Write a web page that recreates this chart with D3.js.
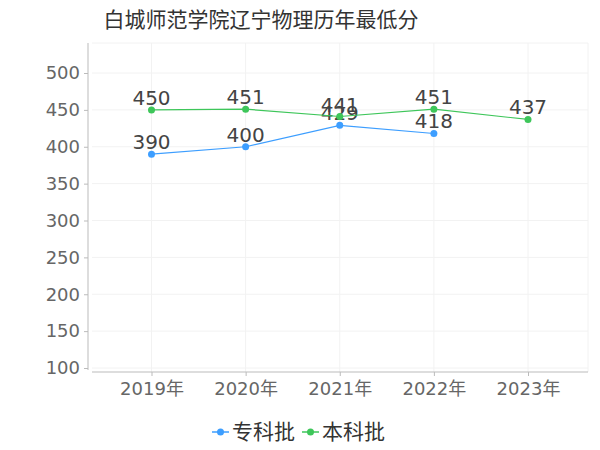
<!DOCTYPE html>
<html>
<head>
<meta charset="utf-8">
<script src="https://cdn.jsdelivr.net/npm/d3@7"></script>
<style>
  body { margin: 0; background: #fff; }
  svg, svg text { font-family: "DejaVu Sans", "Noto Sans CJK SC", sans-serif; }
</style>
</head>
<body>
<div id="chart"></div>
<script>
// 数据
const title = "白城师范学院辽宁物理历年最低分";
const years = ["2019年", "2020年", "2021年", "2022年", "2023年"];
const seriesNames = ["专科批", "本科批"];
const zhuanke = [390, 400, 429, 418, null];
const benke = [450, 451, 441, 451, 437];
const yTicks = [100, 150, 200, 250, 300, 350, 400, 450, 500];
const colors = ["#3d9eff", "#3ec65a"];

const W = 600, H = 450;
const plot = { left: 92, right: 588, top: 43, bottom: 372 };
const FONT = '"DejaVu Sans", "Noto Sans CJK SC", sans-serif';

const svg = d3.select("#chart").append("svg")
    .attr("width", W)
    .attr("height", H);

const x = d3.scalePoint().domain(years).range([151.5, 528]);
const y = d3.scaleLinear().domain([100, 500]).range([368, 73]);

// 网格
const grid = svg.append("g").attr("class", "grid");
grid.selectAll("line.h")
    .data(yTicks)
    .join("line")
    .attr("class", "h")
    .attr("x1", plot.left).attr("x2", plot.right)
    .attr("y1", d => y(d)).attr("y2", d => y(d))
    .attr("stroke", "#f2f2f2");
grid.append("line")
    .attr("x1", plot.left).attr("x2", plot.right)
    .attr("y1", plot.top).attr("y2", plot.top)
    .attr("stroke", "#f2f2f2");
grid.selectAll("line.v")
    .data(years)
    .join("line")
    .attr("class", "v")
    .attr("x1", d => x(d)).attr("x2", d => x(d))
    .attr("y1", plot.top).attr("y2", plot.bottom)
    .attr("stroke", "#f2f2f2");
grid.append("line")
    .attr("x1", plot.right).attr("x2", plot.right)
    .attr("y1", plot.top).attr("y2", plot.bottom)
    .attr("stroke", "#f2f2f2");

// y 轴
const yAxis = svg.append("g")
    .attr("transform", `translate(88,0)`)
    .call(d3.axisLeft(y).tickValues(yTicks).tickSize(4).tickPadding(4))
    .attr("font-family", FONT);
yAxis.select(".domain").remove();
yAxis.append("line")
    .attr("x1", 0).attr("x2", 0)
    .attr("y1", plot.top).attr("y2", 370)
    .attr("stroke", "#bbb");
yAxis.selectAll(".tick line").attr("stroke", "#bbb");
yAxis.selectAll(".tick text")
    .attr("fill", "#666")
    .style("font-size", "18px");

// x 轴
const xAxis = svg.append("g")
    .attr("transform", `translate(0,${plot.bottom})`)
    .call(d3.axisBottom(x).tickSize(4).tickPadding(6))
    .attr("font-family", FONT);
xAxis.select(".domain").remove();
xAxis.append("line")
    .attr("x1", plot.left).attr("x2", plot.right)
    .attr("stroke", "#bbb");
xAxis.selectAll(".tick line").attr("stroke", "#bbb");
xAxis.selectAll(".tick text")
    .attr("fill", "#666")
    .style("font-size", "18px");

// 折线
const series = [zhuanke, benke];
const line = d3.line()
    .defined(d => d != null)
    .x((d, i) => x(years[i]))
    .y(d => y(d));

series.forEach((vals, si) => {
    const g = svg.append("g");
    g.append("path")
        .attr("d", line(vals))
        .attr("fill", "none")
        .attr("stroke", colors[si])
        .attr("stroke-width", 1.2);
    const pts = vals.map((v, i) => ({ v, i })).filter(d => d.v != null);
    g.selectAll("circle")
        .data(pts)
        .join("circle")
        .attr("cx", d => x(years[d.i]))
        .attr("cy", d => y(d.v))
        .attr("r", 3.5)
        .attr("fill", colors[si]);
    g.selectAll("text")
        .data(pts)
        .join("text")
        .attr("x", d => x(years[d.i]))
        .attr("y", d => y(d.v) - 5)
        .attr("text-anchor", "middle")
        .attr("fill", "#444")
        .style("font-size", "20px")
        .text(d => d.v);
});

// 标题
svg.append("text")
    .attr("x", 261)
    .attr("y", 27)
    .attr("text-anchor", "middle")
    .attr("fill", "#333")
    .style("font-size", "21px")
    .text(title);

// 图例
const legend = svg.append("g").attr("transform", "translate(212,432)");
let lx = 0;
seriesNames.forEach((name, i) => {
    const item = legend.append("g").attr("transform", `translate(${lx},0)`);
    item.append("line")
        .attr("x1", 0).attr("x2", 17)
        .attr("stroke", colors[i])
        .attr("stroke-width", 1.5);
    item.append("circle")
        .attr("cx", 8.5).attr("r", 3.5)
        .attr("fill", colors[i]);
    item.append("text")
        .attr("x", 20)
        .attr("y", 7)
        .attr("fill", "#333")
        .style("font-size", "21px")
        .text(name);
    lx += 90;
});
</script>
</body>
</html>
